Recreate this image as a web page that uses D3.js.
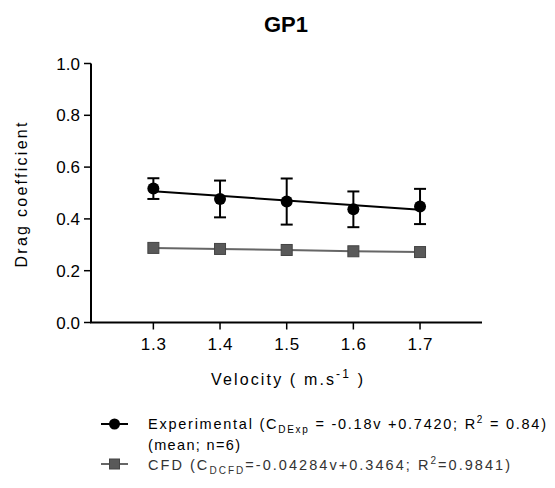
<!DOCTYPE html>
<html>
<head>
<meta charset="utf-8">
<script src="https://cdn.jsdelivr.net/npm/d3@7"></script>
<style>
  body { margin: 0; background: #fff; }
  svg { display: block; font-family: "Liberation Sans", Arial, sans-serif; }
</style>
</head>
<body>
<svg width="555" height="488"></svg>
<script>
// velocity (m/s) on the x axis
const velocity = [1.3, 1.4, 1.5, 1.6, 1.7];

// experimental drag coefficient, mean and error (n=6)
const expMean = [0.517, 0.477, 0.467, 0.437, 0.448];
const expErr = [0.040, 0.071, 0.089, 0.069, 0.068];

// fitted line for experimental data, read at both ends
const fitV = [1.3, 1.7];
const fitExp = [0.507, 0.435];

// CFD drag coefficient
const cfd = [0.288, 0.284, 0.280, 0.275, 0.272];

const yTicks = [0.0, 0.2, 0.4, 0.6, 0.8, 1.0];

const svg = d3.select('svg');

const x = d3.scaleLinear().domain([1.2, 1.8]).range([86.7, 486.7]);
const y = d3.scaleLinear().domain([0, 1]).range([322.5, 63.5]);

// title
svg.append('text')
    .attr('x', 286).attr('y', 32)
    .attr('text-anchor', 'middle')
    .style('font-size', '22px').style('font-weight', 'bold')
    .text('GP1');

// y axis
svg.append('line')
    .attr('x1', 91).attr('x2', 91)
    .attr('y1', y(1)).attr('y2', y(0))
    .attr('stroke', '#000').attr('stroke-width', 2);
yTicks.forEach(t => {
    svg.append('line')
        .attr('x1', 84).attr('x2', 91)
        .attr('y1', y(t)).attr('y2', y(t))
        .attr('stroke', '#000').attr('stroke-width', 1.5);
    svg.append('text')
        .attr('x', 80).attr('y', y(t) + 6)
        .attr('text-anchor', 'end')
        .style('font-size', '17px')
        .text(d3.format('.1f')(t));
});

// x axis
svg.append('line')
    .attr('x1', 90).attr('x2', 482)
    .attr('y1', y(0)).attr('y2', y(0))
    .attr('stroke', '#000').attr('stroke-width', 2);
velocity.forEach(v => {
    svg.append('line')
        .attr('x1', x(v)).attr('x2', x(v))
        .attr('y1', y(0)).attr('y2', y(0) + 7)
        .attr('stroke', '#000').attr('stroke-width', 1.5);
    svg.append('text')
        .attr('x', x(v)).attr('y', 350)
        .attr('text-anchor', 'middle')
        .style('font-size', '17px')
        .attr('textLength', 25)
        .text(d3.format('.1f')(v));
});

// axis titles
const xl = svg.append('text')
    .attr('x', 287).attr('y', 385)
    .attr('text-anchor', 'middle')
    .style('font-size', '16px')
    .attr('textLength', 152);
xl.append('tspan').text('Velocity ( m.s');
xl.append('tspan').attr('dy', -7).style('font-size', '12px').text('-1');
xl.append('tspan').attr('dy', 7).text(' )');

svg.append('text')
    .attr('transform', `translate(27, 195) rotate(-90)`)
    .attr('text-anchor', 'middle')
    .style('font-size', '16px')
    .attr('textLength', 145)
    .text('Drag coefficient');

// CFD series
const line = d3.line().x(d => x(d[0])).y(d => y(d[1]));
svg.append('path')
    .datum(velocity.map((v, i) => [v, cfd[i]]))
    .attr('d', line)
    .attr('fill', 'none').attr('stroke', '#666').attr('stroke-width', 2);
svg.selectAll('.sq').data(velocity).enter().append('rect')
    .attr('x', (d) => x(d) - 5.5)
    .attr('y', (d, i) => y(cfd[i]) - 5.5)
    .attr('width', 11).attr('height', 11)
    .attr('fill', '#595959').attr('stroke', '#444').attr('stroke-width', 1);

// experimental fit line
svg.append('path')
    .datum(fitV.map((v, i) => [v, fitExp[i]]))
    .attr('d', line)
    .attr('fill', 'none').attr('stroke', '#000').attr('stroke-width', 2);

// error bars
velocity.forEach((v, i) => {
    const top = y(expMean[i] + expErr[i]);
    const bot = y(expMean[i] - expErr[i]);
    svg.append('line').attr('x1', x(v)).attr('x2', x(v)).attr('y1', top).attr('y2', bot)
        .attr('stroke', '#000').attr('stroke-width', 2);
    [top, bot].forEach(yy => {
        svg.append('line').attr('x1', x(v) - 6).attr('x2', x(v) + 6).attr('y1', yy).attr('y2', yy)
            .attr('stroke', '#000').attr('stroke-width', 2);
    });
});
svg.selectAll('.pt').data(velocity).enter().append('circle')
    .attr('cx', d => x(d))
    .attr('cy', (d, i) => y(expMean[i]))
    .attr('r', 6)
    .attr('fill', '#000');

// legend
const lg = svg.append('g').style('font-size', '14.5px');
lg.append('line').attr('x1', 101).attr('x2', 128).attr('y1', 424).attr('y2', 424)
    .attr('stroke', '#000').attr('stroke-width', 2);
lg.append('circle').attr('cx', 114.5).attr('cy', 424).attr('r', 5.5).attr('fill', '#000');
const t1 = lg.append('text').attr('x', 148).attr('y', 429).attr('textLength', 398);
t1.append('tspan').text('Experimental (C');
t1.append('tspan').attr('dy', 4).style('font-size', '10px').text('DExp');
t1.append('tspan').attr('dy', -4).text(' = -0.18v +0.7420; R');
t1.append('tspan').attr('dy', -6).style('font-size', '10px').text('2');
t1.append('tspan').attr('dy', 6).text(' = 0.84)');
lg.append('text').attr('x', 148).attr('y', 450).attr('textLength', 92).text('(mean; n=6)');

lg.append('line').attr('x1', 101).attr('x2', 128).attr('y1', 464).attr('y2', 464)
    .attr('stroke', '#666').attr('stroke-width', 2);
lg.append('rect').attr('x', 109.5).attr('y', 459).attr('width', 10).attr('height', 10)
    .attr('fill', '#595959').attr('stroke', '#444');
const t2 = lg.append('text').attr('x', 148).attr('y', 470).attr('fill', '#333').attr('textLength', 362);
t2.append('tspan').text('CFD (C');
t2.append('tspan').attr('dy', 4).style('font-size', '10px').text('DCFD');
t2.append('tspan').attr('dy', -4).text('=-0.04284v+0.3464; R');
t2.append('tspan').attr('dy', -6).style('font-size', '10px').text('2');
t2.append('tspan').attr('dy', 6).text('=0.9841)');
</script>
</body>
</html>
